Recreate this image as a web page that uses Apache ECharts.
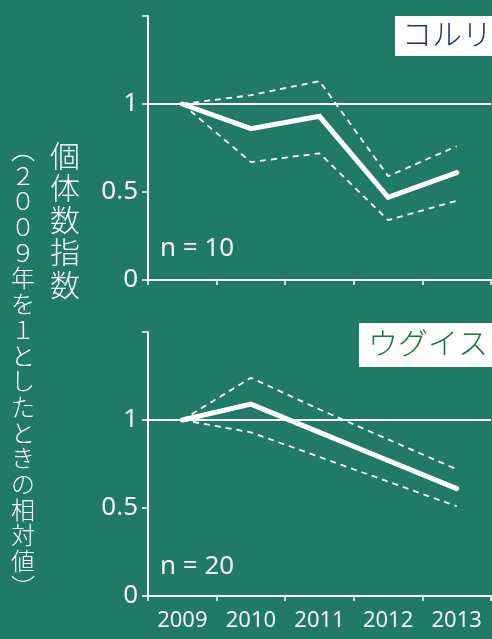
<!DOCTYPE html>
<html><head><meta charset="utf-8">
<script src="https://cdn.jsdelivr.net/npm/echarts@6/dist/echarts.min.js"></script>
<style>html,body{margin:0;padding:0;background:#217a66;}#c{width:492px;height:639px;}</style>
</head><body><div id="c"></div>
<script>
const years = ['2009', '2010', '2011', '2012', '2013'];
const koruriMean = [1, 0.86, 0.93, 0.47, 0.61];
const koruriUpper = [1, 1.05, 1.13, 0.59, 0.76];
const koruriLower = [1, 0.67, 0.72, 0.34, 0.45];
const uguisuMean = [1, 1.09, 0.93, 0.77, 0.61];
const uguisuUpper = [1, 1.24, 1.06, 0.89, 0.72];
const uguisuLower = [1, 0.93, 0.79, 0.65, 0.51];
const yLabels = ['0', '0.5', '1'];
const panelNames = ['コルリ', 'ウグイス'];
const panelN = ['n = 10', 'n = 20'];
const yTitle = '個体数指数';
const ySubTitle = '︵２００９年を１としたときの相対値︶';

const BG = '#217a66';
const FG = '#ffffff';
const NUMFONT = '"Noto Sans", "Open Sans", sans-serif';
const JPFONT = '"Noto Sans CJK JP", sans-serif';

const chart = echarts.init(document.getElementById('c'), null, {renderer: 'canvas'});

function xAxis(idx, showLabels) {
  return {
    type: 'category', gridIndex: idx, data: years, boundaryGap: true,
    axisLine: {lineStyle: {color: FG, width: 2}},
    axisTick: {show: true, length: 5, lineStyle: {color: FG, width: 1.5}},
    axisLabel: {show: showLabels, color: '#f2f2f2', fontSize: 22, fontFamily: NUMFONT, margin: 14},
    splitLine: {show: false}
  };
}
function yAxis(idx) {
  return {
    type: 'value', gridIndex: idx, min: 0, max: 1.5, interval: 0.5,
    axisLine: {show: true, lineStyle: {color: FG, width: 2}},
    axisTick: {show: true, length: 6, lineStyle: {color: FG, width: 1.5}},
    axisLabel: {color: '#f2f2f2', fontSize: 26, fontFamily: NUMFONT, margin: 10,
      formatter: v => { const s = String(v); return yLabels.indexOf(s) >= 0 ? s : ''; }},
    splitLine: {show: false}
  };
}
function lines(idx, mean, up, lo) {
  const dashed = (d) => ({
    type: 'line', xAxisIndex: idx, yAxisIndex: idx, data: d, symbol: 'none', silent: true,
    lineStyle: {color: FG, width: 1.8, type: [6, 5]}, z: 3
  });
  return [
    {type: 'line', xAxisIndex: idx, yAxisIndex: idx, data: mean, symbol: 'none', silent: true,
     lineStyle: {color: FG, width: 5, cap: 'round', join: 'miter'}, z: 4,
     markLine: {silent: true, symbol: 'none', label: {show: false},
       lineStyle: {color: FG, width: 2, type: 'solid'}, data: [{yAxis: 1}]}},
    dashed(up), dashed(lo)
  ];
}

const option = {
  backgroundColor: BG,
  animation: false,
  grid: [
    {left: 148, right: 1, top: 16, height: 264},
    {left: 148, right: 1, top: 332, height: 264}
  ],
  xAxis: [xAxis(0, false), xAxis(1, true)],
  yAxis: [yAxis(0), yAxis(1)],
  series: [
    ...lines(0, koruriMean, koruriUpper, koruriLower),
    ...lines(1, uguisuMean, uguisuUpper, uguisuLower)
  ],
  graphic: [
    {type: 'rect', left: 395, top: 16, shape: {width: 97, height: 40}, style: {fill: '#ffffff'}},
    {type: 'text', left: 402, top: 19, style: {text: panelNames[0], fill: '#1f2d8c', fontSize: 30, fontFamily: JPFONT, fontWeight: 300}},
    {type: 'rect', left: 359, top: 323, shape: {width: 133, height: 44}, style: {fill: '#ffffff'}},
    {type: 'text', left: 368, top: 328, style: {text: panelNames[1], fill: '#17763f', fontSize: 30, fontFamily: JPFONT, fontWeight: 300}},
    {type: 'text', left: 160, top: 236, style: {text: panelN[0], fill: '#f2f2f2', fontSize: 26, fontFamily: NUMFONT}},
    {type: 'text', left: 160, top: 554, style: {text: panelN[1], fill: '#f2f2f2', fontSize: 26, fontFamily: NUMFONT}},
    {type: 'text', x: 65, y: 139, style: {text: yTitle.split('').join('\n'), fill: FG, fontSize: 30, lineHeight: 32.3, align: 'center', verticalAlign: 'top', fontFamily: JPFONT, fontWeight: 300}},
    {type: 'text', x: 23, y: 137, style: {text: ySubTitle.split('').join('\n'), fill: FG, fontSize: 24, lineHeight: 25.7, align: 'center', verticalAlign: 'top', fontFamily: JPFONT, fontWeight: 300}}
  ]
};
chart.setOption(option);
</script></body></html>
